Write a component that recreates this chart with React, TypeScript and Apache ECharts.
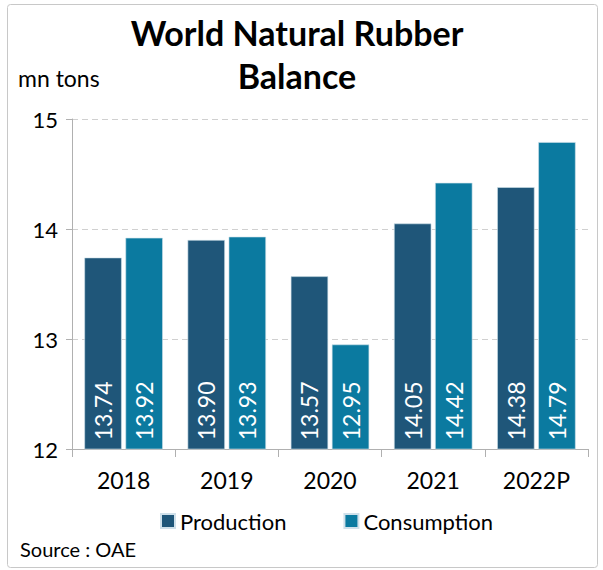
import React, { useEffect, useRef } from "react";
import * as echarts from "echarts";

const categories = ["2018", "2019", "2020", "2021", "2022P"];
const production = [13.74, 13.9, 13.57, 14.05, 14.38];
const consumption = [13.92, 13.93, 12.95, 14.42, 14.79];
const yTicks = [12, 13, 14, 15];

const FONT = "Lato, 'Open Sans', sans-serif";

export default function App() {
  const ref = useRef<HTMLDivElement>(null);
  useEffect(() => {
    document.body.style.margin = "0";
    const chart = echarts.init(ref.current!, null, { renderer: "svg" });
    const label = {
      show: true,
      position: "insideBottom" as const,
      rotate: 90,
      align: "left" as const,
      verticalAlign: "middle" as const,
      distance: 9,
      color: "#ffffff",
      fontSize: 23,
      fontFamily: FONT,
      formatter: (p: any) => Number(p.value).toFixed(2),
    };
    chart.setOption({
      animation: false,
      backgroundColor: "#ffffff",
      title: {
        text: "World Natural Rubber\nBalance",
        left: 292,
        textAlign: "center",
        top: 6,
        textStyle: { fontSize: 34, fontWeight: "bold", color: "#000", fontFamily: FONT, lineHeight: 43 },
      },
      graphic: [
        {
          type: "rect",
          shape: { x: 7.5, y: 4.5, width: 590, height: 563, r: 3 },
          style: { fill: "none", stroke: "#c8c8c8", lineWidth: 1 },
        },
        {
          type: "text",
          left: 18,
          top: 66,
          style: { text: "mn tons", fill: "#000", font: `23px ${FONT}` },
        },
        {
          type: "text",
          left: 20,
          top: 539,
          style: { text: "Source : OAE", fill: "#000", font: `20px ${FONT}` },
        },
      ],
      legend: {
        bottom: 33,
        left: 155,
        itemWidth: 14,
        itemHeight: 14,
        itemGap: 57,
        icon: "rect",
        textStyle: { fontSize: 22, color: "#000", fontFamily: FONT },
        data: ["Production", "Consumption"],
      },
      grid: { left: 72, right: 15, top: 119, bottom: 121 },
      xAxis: {
        type: "category",
        data: categories,
        axisLine: { lineStyle: { color: "#b0b0b0" } },
        axisTick: { show: true, length: 8, interval: 0, lineStyle: { color: "#b0b0b0" } },
        axisLabel: { fontSize: 23, color: "#000", fontFamily: FONT, margin: 19 },
      },
      yAxis: {
        type: "value",
        min: yTicks[0],
        max: yTicks[yTicks.length - 1],
        interval: 1,
        axisLine: { show: true, lineStyle: { color: "#b0b0b0" } },
        axisTick: { show: true, length: 6, lineStyle: { color: "#b0b0b0" } },
        axisLabel: { fontSize: 22, color: "#000", fontFamily: FONT, margin: 14 },
        splitLine: { lineStyle: { color: "#d0d0d0", type: [6, 4] } },
      },
      series: [
        {
          name: "Production",
          type: "bar",
          data: production,
          barGap: "10%",
          barCategoryGap: "24%",
          itemStyle: { color: "#1F5679", borderColor: "#cfe0ea", borderWidth: 0.6 },
          label,
        },
        {
          name: "Consumption",
          type: "bar",
          data: consumption,
          itemStyle: { color: "#0B7AA0", borderColor: "#cfe0ea", borderWidth: 0.6 },
          label,
        },
      ],
    });
    return () => chart.dispose();
  }, []);
  return <div ref={ref} style={{ width: 603, height: 570 }} />;
}
